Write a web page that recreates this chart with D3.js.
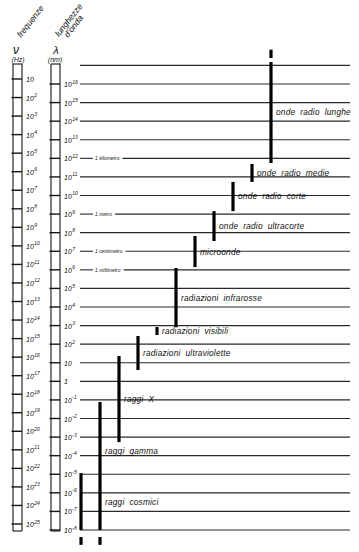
<!DOCTYPE html>
<html><head><meta charset="utf-8">
<script src="https://cdn.jsdelivr.net/npm/d3@7"></script>
<style>
html,body{margin:0;padding:0;background:#fff;}
svg{display:block;}
text{font-family:"Liberation Sans",Arial,sans-serif;font-style:italic;fill:#111;}
</style></head>
<body>
<script>
// ---- data ----
const bandNames = ["raggi cosmici","raggi gamma","raggi X","radiazioni ultraviolette","radiazioni visibili","radiazioni infrarosse","microonde","onde radio ultracorte","onde radio corte","onde radio medie","onde radio lunghe"];
// log10 of wavelength (nm): lower and upper end of each band
const bandFrom = [-8, -8, -3.27, 0.61, 2.49, 2.92, 6.15, 7.55, 9.16, 10.73, 11.75];
const bandTo   = [-4.94, -1.11, 1.36, 2.44, 2.92, 6.10, 7.82, 9.16, 10.73, 11.70, 17.18];
const labelAt  = [-6.47, -3.73, -0.95, 1.52, 2.70, 4.51, 6.98, 8.35, 9.95, 11.20, 14.47];
// continuation stubs beyond the scale (log10 nm)
const stubBands = ["raggi cosmici","raggi gamma","onde radio lunghe"];
const stubFrom  = [-8.38, -8.38, 17.40];
const stubTo    = [-8.80, -8.80, 17.85];
// wavelength exponents (nm) and frequency exponents (Hz)
const lambdaExp = d3.range(17, -9, -1);        // grid lines 10^17 ... 10^-8
const lambdaTickExp = d3.range(16, -9, -1);    // labelled 10^16 ... 10^-8
const freqExp = d3.range(1, 26);               // 10 ... 10^25
const lengthNotes = [{e:12, t:"1 kilometro"},{e:9, t:"1 metro"},{e:7, t:"1 centimetro"},{e:6, t:"1 millimetro"}];

// ---- layout ----
const W = 359, H = 552;
const svg = d3.select("body").append("svg").attr("width", W).attr("height", H);

const yL = d3.scaleLinear().domain([16, -8]).range([84, 530]);
const yF = d3.scaleLinear().domain([1, 25]).range([79, 524]);
const x = d3.scalePoint().domain(bandNames).range([81, 271]);

const gridX0 = 80, gridX1 = 350;
const ink = "#151515";

// headers
svg.append("text").attr("x", 16).attr("y", 54).attr("font-size", 12).attr("text-anchor","middle").text("ν");
svg.append("text").attr("x", 18).attr("y", 62).attr("font-size", 7).attr("text-anchor","middle").text("(Hz)");
svg.append("text").attr("transform","translate(21,38) rotate(-52)").attr("font-size", 8.5).text("frequenze");
svg.append("text").attr("x", 56).attr("y", 54).attr("font-size", 11).attr("text-anchor","middle").text("λ");
svg.append("text").attr("x", 55).attr("y", 62).attr("font-size", 7).attr("text-anchor","middle").text("(nm)");
svg.append("text").attr("transform","translate(59,37) rotate(-52)").attr("font-size", 8.5).text("lunghezze");
svg.append("text").attr("transform","translate(68,38) rotate(-52)").attr("font-size", 8.5).text("d'onda");

// rulers
function ruler(x0, x1, ticksY){
  const g = svg.append("g");
  g.append("line").attr("x1",x0).attr("x2",x0).attr("y1",64).attr("y2",531).attr("stroke",ink).attr("stroke-width",1.1);
  g.append("line").attr("x1",x1).attr("x2",x1).attr("y1",64).attr("y2",531).attr("stroke",ink).attr("stroke-width",1.1);
  g.append("line").attr("x1",x0).attr("x2",x1).attr("y1",64).attr("y2",64).attr("stroke",ink).attr("stroke-width",1.1);
  g.append("line").attr("x1",x0).attr("x2",x1).attr("y1",531).attr("y2",531).attr("stroke",ink).attr("stroke-width",1.1);
  g.selectAll("line.t").data(ticksY).join("line").attr("class","t")
    .attr("x1",x0-1.5).attr("x2",x1).attr("y1",d=>d).attr("y2",d=>d)
    .attr("stroke",ink).attr("stroke-width",1.4);
}
ruler(13, 22, freqExp.map(e=>yF(e)));
ruler(51, 60, lambdaTickExp.map(e=>yL(e)));

// tick labels
function powLabel(sel, e){
  if (e === 0) { sel.text("1"); return; }
  if (e === 1) { sel.text("10"); return; }
  sel.append("tspan").text("10");
  sel.append("tspan").attr("font-size", 5).attr("dy", -3.5).attr("dx", 0.5).text(String(e));
}
svg.selectAll("text.fl").data(freqExp).join("text").attr("class","fl")
  .attr("x", 26).attr("y", d=>yF(d)+3).attr("font-size", 7)
  .each(function(d){ powLabel(d3.select(this), d); });
svg.selectAll("text.ll").data(lambdaTickExp).join("text").attr("class","ll")
  .attr("x", 64).attr("y", d=>yL(d)+3).attr("font-size", 7)
  .each(function(d){ powLabel(d3.select(this), d); });

// grid lines (with length notes)
const noteMap = new Map(lengthNotes.map(n=>[n.e, n.t]));
const gridG = svg.append("g");
lambdaExp.forEach(e=>{
  const y = yL(e);
  if (noteMap.has(e)) {
    gridG.append("line").attr("x1",gridX0).attr("x2",93).attr("y1",y).attr("y2",y).attr("stroke","#2a2a2a").attr("stroke-width",1.1);
    const t = gridG.append("text").attr("x",95).attr("y",y+1.8).attr("font-size",5).text(noteMap.get(e));
    const w = t.node().getComputedTextLength();
    gridG.append("line").attr("x1",95+w+3).attr("x2",gridX1).attr("y1",y).attr("y2",y).attr("stroke","#2a2a2a").attr("stroke-width",1.1);
  } else {
    gridG.append("line").attr("x1",gridX0).attr("x2",gridX1).attr("y1",y).attr("y2",y).attr("stroke","#2a2a2a").attr("stroke-width",1.1);
  }
});

// bars
const bands = bandNames.map((n,i)=>({name:n, from:bandFrom[i], to:bandTo[i], lab:labelAt[i]}));
svg.selectAll("line.bar").data(bands).join("line").attr("class","bar")
  .attr("x1",d=>x(d.name)).attr("x2",d=>x(d.name))
  .attr("y1",d=>yL(d.to)).attr("y2",d=>yL(d.from))
  .attr("stroke","#000").attr("stroke-width",3.2);

const stubs = stubBands.map((n,i)=>({name:n, from:stubFrom[i], to:stubTo[i]}));
svg.selectAll("line.stub").data(stubs).join("line").attr("class","stub")
  .attr("x1",d=>x(d.name)).attr("x2",d=>x(d.name))
  .attr("y1",d=>yL(d.from)).attr("y2",d=>yL(d.to))
  .attr("stroke","#000").attr("stroke-width",3.2);

// band labels
const gx = x("raggi gamma");
svg.selectAll("text.bl").data(bands).join("text").attr("class","bl")
  .attr("x", d=>Math.max(x(d.name), gx)+5)
  .attr("y", d=>yL(d.lab)+3)
  .attr("font-size", 8.3).attr("word-spacing", 2.5).attr("letter-spacing", 0.2)
  .text(d=>d.name);
</script>
</body></html>
